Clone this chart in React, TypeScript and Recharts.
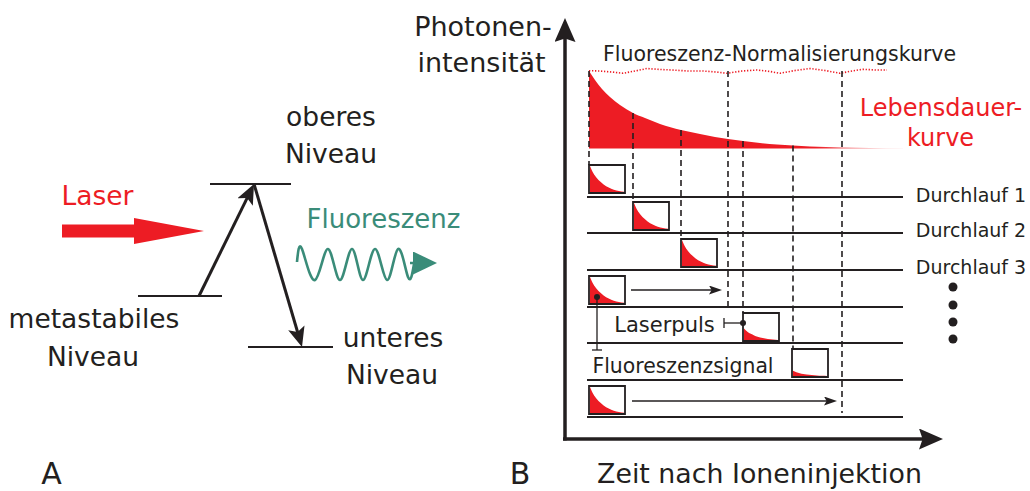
import React from 'react';
import { ComposedChart, XAxis, YAxis, Area, Line, ReferenceLine, ReferenceArea, ReferenceDot } from 'recharts';

const W = 1030;
const H = 491;

const RED = '#ed1c24';
const INK = '#231f20';
const TEAL = '#3a8c79';
const FONT = '"DejaVu Sans", Verdana, sans-serif';

// ---- Teil A: Termschema (Diagrammeinheiten, y nach unten)
const levelFrom = [210, 138, 248];
const levelTo = [291, 222, 333];
const levelY = [184, 296, 347]; // oberes, metastabiles, unteres

const transitions = [
  { x1: 199, y1: 296, x2: 254, y2: 184 }, // Anregung
  { x1: 254, y1: 184, x2: 302, y2: 347 }, // Zerfall
];

const laser = { x1: 62, x2: 204, y: 231 };

// Fluoreszenz-Welle: Maxima / Minima
const waveX = [297, 302, 315, 328, 340, 352, 363, 375, 387, 398, 408, 414];
const waveY = [262, 249, 280, 249, 280, 249, 280, 249, 280, 249, 277, 264];
const waveArrow = { x1: 410, x2: 437, y: 263 };

const termLabels = [
  { text: 'oberes', x: 331, y: 126 },
  { text: 'Niveau', x: 331, y: 163 },
  { text: 'metastabiles', x: 94, y: 328 },
  { text: 'Niveau', x: 93, y: 366 },
  { text: 'unteres', x: 393, y: 347 },
  { text: 'Niveau', x: 392, y: 384 },
];

// ---- Teil B: Messablauf
const decayTime = [589, 595, 602, 610, 620, 633, 645, 660, 681, 700, 715, 728, 743, 760, 777, 793, 810, 826, 842, 870, 903];
const decayLevel = [71, 80, 89, 97, 105, 113, 118, 124, 130, 134, 137, 139, 141, 143, 144.5, 145.5, 146.5, 147, 147.5, 148, 148.3];
const decayBase = 148.5;

const normTime = [589, 600, 612, 623, 635, 647, 660, 672, 688, 703, 716, 727, 742, 757, 770, 780, 795, 810, 825, 840, 852, 863, 876, 887];
const normLevel = [70.7, 71, 72, 73.3, 71, 68.5, 69.5, 70, 71, 71, 72, 73.3, 71, 70, 71.5, 73.3, 70.5, 68.5, 70.5, 73.3, 71, 69.3, 70, 70];

const gateX = [589, 633, 681, 728, 743, 793, 842];
const gateTop = [71, 113, 130, 71, 141, 145.5, 71];
const gateBottom = [165, 202, 239, 306, 313, 349, 413];

const runLines = [197, 233, 270, 307, 343, 380, 417];
const runStart = 587;
const runEnd = 903;
const runLabels = ['Durchlauf 1', 'Durchlauf 2', 'Durchlauf 3'];
const runLabelY = [202, 237, 274];

// Messfenster je Durchlauf
const windowStart = [589, 633, 681, 589, 743, 792, 589];
const windowTop = [165, 202, 239, 276, 313, 349, 386];
const windowSpan = 36;
const windowDepth = 28;
const windowSignal = [1, 1, 1, 1, 0.44, 0.2, 1];
const miniF = [0, 0.1, 0.2, 0.3, 0.4, 0.55, 0.7, 0.85, 1];
const miniS = [1, 0.72, 0.54, 0.4, 0.29, 0.17, 0.09, 0.04, 0.01];

const scanArrows = [
  { x1: 631, x2: 722, y: 290 },
  { x1: 632, x2: 837, y: 401 },
];

const moreDots = [287, 305, 322, 339];
const moreDotsX = 953;

const axisOrigin = { x: 565, y: 439 };
const axisTipY = 18;
const axisTipX = 943;

type Head = { id: string; len: number; wid: number; notch: number; color: string; stroke: number };
const heads: Head[] = [
  { id: 'hAxis', len: 24, wid: 21, notch: 0.15, color: INK, stroke: 3.5 },
  { id: 'hTrans', len: 20, wid: 17, notch: 0.22, color: INK, stroke: 3 },
  { id: 'hScan', len: 13, wid: 9, notch: 0.2, color: INK, stroke: 1.5 },
  { id: 'hLaser', len: 70, wid: 26, notch: 0, color: RED, stroke: 13 },
  { id: 'hWave', len: 24, wid: 23, notch: 0, color: TEAL, stroke: 2.5 },
];
const head = (id: string) => heads.find((h) => h.id === id)!;

const seg = (key: string, x1: number, y1: number, x2: number, y2: number, color: string, width: number, dash?: string) => (
  <ReferenceLine
    key={key}
    segment={[{ x: x1, y: y1 }, { x: x2, y: y2 }]}
    stroke={color}
    strokeWidth={width}
    strokeDasharray={dash}
    ifOverflow="visible"
  />
);

const arrow = (key: string, x1: number, y1: number, x2: number, y2: number, h: Head) => {
  const len = Math.hypot(x2 - x1, y2 - y1);
  const back = h.len * h.notch;
  const k = (len - h.len + back + 0.5) / len;
  return (
    <ReferenceLine
      key={key}
      segment={[{ x: x1, y: y1 }, { x: x1 + (x2 - x1) * k, y: y1 + (y2 - y1) * k }]}
      ifOverflow="visible"
      shape={(p: any) => (
        <line x1={p.x1} y1={p.y1} x2={p.x2} y2={p.y2} stroke={h.color} strokeWidth={h.stroke} markerEnd={`url(#${h.id})`} />
      )}
    />
  );
};

const label = (key: string, text: string, x: number, y: number, size: number, color = INK) => (
  <ReferenceDot
    key={key}
    x={x}
    y={y}
    r={0}
    ifOverflow="visible"
    shape={(p: any) => (
      <text x={p.cx} y={p.cy} textAnchor="middle" fontFamily={FONT} fontSize={size} fill={color}>
        {text}
      </text>
    )}
  />
);

export default function App() {
  const decayData = decayTime.map((x, i) => ({ x, y: decayLevel[i] }));
  const normData = normTime.map((x, i) => ({ x, y: normLevel[i] }));
  const waveData = waveX.map((x, i) => ({ x, y: waveY[i] }));

  return (
    <div style={{ position: 'absolute', left: 0, top: 0, width: W, height: H, background: '#fff' }}>
      <ComposedChart width={W} height={H} margin={{ top: 0, right: 0, bottom: 0, left: 0 }}>
        <defs>
          {heads.map((h) => (
            <marker
              key={h.id}
              id={h.id}
              markerUnits="userSpaceOnUse"
              markerWidth={h.len}
              markerHeight={h.wid}
              viewBox={`0 0 ${h.len} ${h.wid}`}
              refX={h.len * h.notch + 0.5}
              refY={h.wid / 2}
              orient="auto"
            >
              <path
                d={`M0,0 L${h.len},${h.wid / 2} L0,${h.wid} L${h.len * h.notch},${h.wid / 2} Z`}
                fill={h.color}
              />
            </marker>
          ))}
          <linearGradient id="fade" x1="0" y1="0" x2="1" y2="0">
            <stop offset="0" stopColor={RED} stopOpacity={1} />
            <stop offset="0.72" stopColor={RED} stopOpacity={1} />
            <stop offset="1" stopColor={RED} stopOpacity={0.12} />
          </linearGradient>
        </defs>
        <XAxis type="number" dataKey="x" domain={[0, W]} hide allowDataOverflow />
        <YAxis type="number" dataKey="y" domain={[0, H]} reversed hide allowDataOverflow />

        {/* Lebensdauerkurve */}
        <Area
          data={decayData}
          dataKey="y"
          type="monotone"
          baseValue={decayBase}
          stroke="none"
          fill="url(#fade)"
          fillOpacity={1}
          dot={false}
          activeDot={false}
          isAnimationActive={false}
        />
        {windowStart.map((x0, i) => (
          <Area
            key={`mini${i}`}
            data={miniF.map((f, k) => ({
              x: x0 + 1 + f * (windowSpan - 2),
              y: windowTop[i] + windowDepth - 1 - windowSignal[i] * miniS[k] * (windowDepth - 2),
            }))}
            dataKey="y"
            type="monotone"
            baseValue={windowTop[i] + windowDepth - 1}
            stroke="none"
            fill={RED}
            fillOpacity={1}
            dot={false}
            activeDot={false}
            isAnimationActive={false}
          />
        ))}
        <Line
          data={normData}
          dataKey="y"
          type="linear"
          stroke={RED}
          strokeWidth={1.6}
          strokeDasharray="1.3 1.7"
          dot={false}
          activeDot={false}
          isAnimationActive={false}
        />
        <Line
          data={waveData}
          dataKey="y"
          type="natural"
          stroke={TEAL}
          strokeWidth={2.6}
          dot={false}
          activeDot={false}
          isAnimationActive={false}
        />

        {/* Termschema */}
        {levelY.map((y, i) => seg(`lv${i}`, levelFrom[i], y, levelTo[i], y, INK, 2))}
        {transitions.map((t, i) => arrow(`tr${i}`, t.x1, t.y1, t.x2, t.y2, head('hTrans')))}
        {arrow('laser', laser.x1, laser.y, laser.x2, laser.y, head('hLaser'))}
        {arrow('wave', waveArrow.x1, waveArrow.y, waveArrow.x2, waveArrow.y, head('hWave'))}

        {/* Messablauf */}
        {runLines.map((y, i) => seg(`run${i}`, runStart, y, runEnd, y, INK, 1.8))}
        {gateX.map((x, i) => seg(`gate${i}`, x, gateTop[i], x, gateBottom[i], INK, 1.6, '6 4'))}
        {windowStart.map((x0, i) => (
          <ReferenceArea
            key={`win${i}`}
            x1={x0}
            x2={x0 + windowSpan}
            y1={windowTop[i]}
            y2={windowTop[i] + windowDepth}
            fill="none"
            stroke={INK}
            strokeWidth={1.8}
            ifOverflow="visible"
          />
        ))}
        {scanArrows.map((a, i) => arrow(`scan${i}`, a.x1, a.y, a.x2, a.y, head('hScan')))}

        {/* Laserpuls / Fluoreszenzsignal Zeiger */}
        {seg('lpLine', 724, 323, 743, 323, INK, 1.3)}
        {seg('lpTick', 724, 318, 724, 328, INK, 1.3)}
        {seg('fsLine', 597, 297, 597, 350, INK, 1.3)}
        {seg('fsTick', 592, 350, 602, 350, INK, 1.3)}
        <ReferenceDot x={743} y={323} r={3} fill={INK} stroke="none" ifOverflow="visible" />
        <ReferenceDot x={597} y={297} r={3} fill={INK} stroke="none" ifOverflow="visible" />
        {moreDots.map((y, i) => (
          <ReferenceDot key={`more${i}`} x={moreDotsX} y={y} r={4.5} fill={INK} stroke="none" ifOverflow="visible" />
        ))}

        {/* Achsen */}
        {arrow('yAxis', axisOrigin.x, axisOrigin.y + 1.5, axisOrigin.x, axisTipY, head('hAxis'))}
        {arrow('xAxis', axisOrigin.x - 2, axisOrigin.y, axisTipX, axisOrigin.y, head('hAxis'))}

        {/* Texte */}
        {termLabels.map((l, i) => label(`tl${i}`, l.text, l.x, l.y, 26.5))}
        {label('laserTxt', 'Laser', 97.5, 205, 26.5, RED)}
        {label('fluorTxt', 'Fluoreszenz', 383.5, 228, 26, TEAL)}
        {label('A', 'A', 51.5, 484, 30)}
        {label('B', 'B', 520, 484, 30)}
        {label('yTitle1', 'Photonen-', 483, 36, 27)}
        {label('yTitle2', 'intensität', 481.5, 72, 27)}
        {label('xTitle', 'Zeit nach Ioneninjektion', 759.5, 483, 26.8)}
        {label('norm', 'Fluoreszenz-Normalisierungskurve', 779.5, 61, 20.5)}
        {label('life1', 'Lebensdauer-', 941, 116, 24, RED)}
        {label('life2', 'kurve', 940.5, 146, 24, RED)}
        {runLabels.map((t, i) => label(`rl${i}`, t, 971, runLabelY[i], 19))}
        {label('lp', 'Laserpuls', 664.5, 332, 21)}
        {label('fs', 'Fluoreszenzsignal', 683, 373, 20.4)}
      </ComposedChart>
    </div>
  );
}
